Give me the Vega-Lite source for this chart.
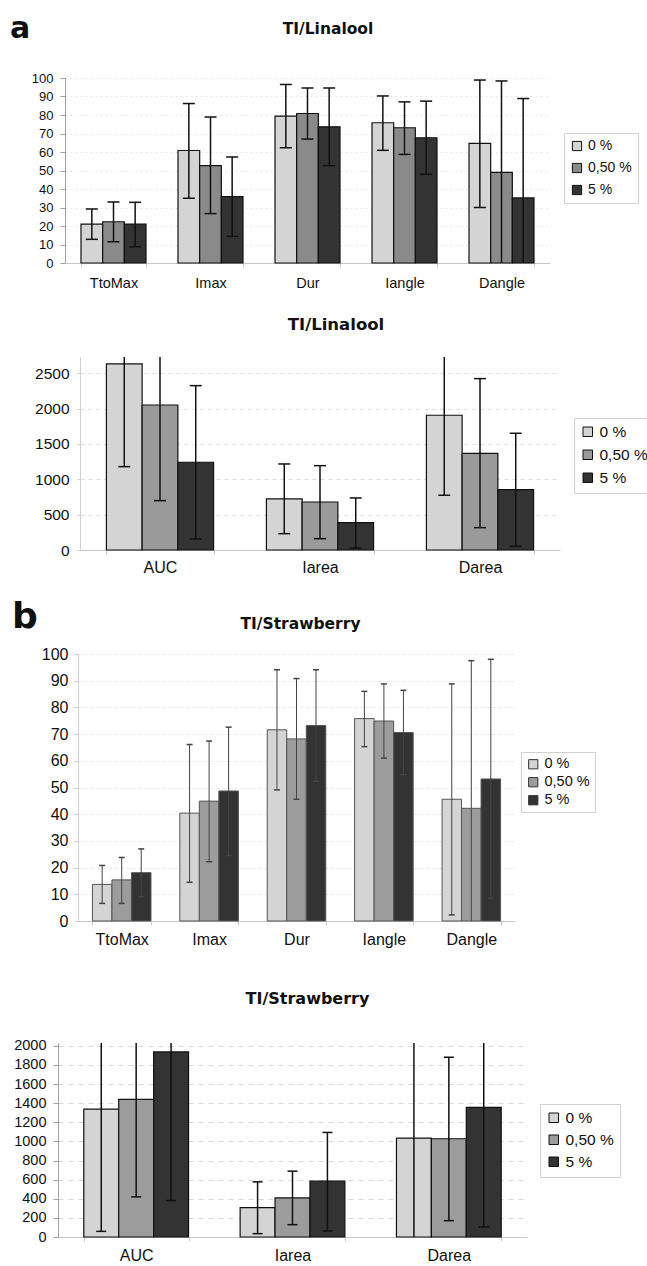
{
"$schema": "https://vega.github.io/schema/vega-lite/v6.json",
"background": "white",
"padding": {"left": 5, "top": 13, "right": 0, "bottom": 0},
"config": {
  "view": {"stroke": null},
  "font": "Liberation Sans",
  "axis": {"labelFont": "Liberation Sans", "labelColor": "#111", "domainColor": "#a0a0a0", "tickColor": "#a0a0a0", "labelOverlap": false},
  "axisX": {"grid": false},
  "axisY": {"grid": true, "format": "d"},
  "legend": {"labelFont": "Liberation Sans", "labelColor": "#111"},
  "title": {"font": "DejaVu Sans", "fontWeight": "bold", "color": "#111"}
},
"datasets": {
  "a1": [
    {"param": "TtoMax", "conc": "0 %", "v": 21, "lo": 12.8, "hi": 29.2},
    {"param": "TtoMax", "conc": "0,50 %", "v": 22.3, "lo": 11.5, "hi": 33},
    {"param": "TtoMax", "conc": "5 %", "v": 21, "lo": 8.8, "hi": 32.8},
    {"param": "Imax", "conc": "0 %", "v": 60.8, "lo": 35, "hi": 86.2},
    {"param": "Imax", "conc": "0,50 %", "v": 52.6, "lo": 26.7, "hi": 78.9},
    {"param": "Imax", "conc": "5 %", "v": 35.9, "lo": 14.4, "hi": 57.3},
    {"param": "Dur", "conc": "0 %", "v": 79.4, "lo": 62.3, "hi": 96.5},
    {"param": "Dur", "conc": "0,50 %", "v": 80.8, "lo": 67, "hi": 94.6},
    {"param": "Dur", "conc": "5 %", "v": 73.6, "lo": 52.6, "hi": 94.6},
    {"param": "Iangle", "conc": "0 %", "v": 75.8, "lo": 60.9, "hi": 90.3},
    {"param": "Iangle", "conc": "0,50 %", "v": 73.1, "lo": 58.7, "hi": 87.1},
    {"param": "Iangle", "conc": "5 %", "v": 67.7, "lo": 48, "hi": 87.5},
    {"param": "Dangle", "conc": "0 %", "v": 64.7, "lo": 30, "hi": 98.9},
    {"param": "Dangle", "conc": "0,50 %", "v": 49, "lo": -1.5, "hi": 98.4},
    {"param": "Dangle", "conc": "5 %", "v": 35.2, "lo": -18.5, "hi": 88.9}
  ],
  "a2": [
    {"param": "AUC", "conc": "0 %", "v": 2632, "lo": 1179, "hi": 4085},
    {"param": "AUC", "conc": "0,50 %", "v": 2051, "lo": 698, "hi": 3404},
    {"param": "AUC", "conc": "5 %", "v": 1241, "lo": 156, "hi": 2325},
    {"param": "Iarea", "conc": "0 %", "v": 722, "lo": 231, "hi": 1217},
    {"param": "Iarea", "conc": "0,50 %", "v": 679, "lo": 160, "hi": 1193},
    {"param": "Iarea", "conc": "5 %", "v": 387, "lo": 28, "hi": 736},
    {"param": "Darea", "conc": "0 %", "v": 1906, "lo": 774, "hi": 3038},
    {"param": "Darea", "conc": "0,50 %", "v": 1368, "lo": 316, "hi": 2424},
    {"param": "Darea", "conc": "5 %", "v": 853, "lo": 52, "hi": 1651}
  ],
  "b1": [
    {"param": "TtoMax", "conc": "0 %", "v": 13.7, "lo": 6.6, "hi": 20.8},
    {"param": "TtoMax", "conc": "0,50 %", "v": 15.4, "lo": 6.6, "hi": 23.8},
    {"param": "TtoMax", "conc": "5 %", "v": 18.1, "lo": 9.1, "hi": 27},
    {"param": "Imax", "conc": "0 %", "v": 40.4, "lo": 14.5, "hi": 66.1},
    {"param": "Imax", "conc": "0,50 %", "v": 44.9, "lo": 22.2, "hi": 67.4},
    {"param": "Imax", "conc": "5 %", "v": 48.7, "lo": 24.5, "hi": 72.6},
    {"param": "Dur", "conc": "0 %", "v": 71.6, "lo": 49.1, "hi": 94.1},
    {"param": "Dur", "conc": "0,50 %", "v": 68.2, "lo": 45.6, "hi": 90.8},
    {"param": "Dur", "conc": "5 %", "v": 73.2, "lo": 52.3, "hi": 94.1},
    {"param": "Iangle", "conc": "0 %", "v": 75.8, "lo": 65.3, "hi": 86},
    {"param": "Iangle", "conc": "0,50 %", "v": 74.9, "lo": 61, "hi": 88.8},
    {"param": "Iangle", "conc": "5 %", "v": 70.6, "lo": 54.8, "hi": 86.4},
    {"param": "Dangle", "conc": "0 %", "v": 45.6, "lo": 2.3, "hi": 88.8},
    {"param": "Dangle", "conc": "0,50 %", "v": 42.2, "lo": -13, "hi": 97.5},
    {"param": "Dangle", "conc": "5 %", "v": 53.2, "lo": 8.5, "hi": 98}
  ],
  "b2": [
    {"param": "AUC", "conc": "0 %", "v": 1339, "lo": 59, "hi": 2619},
    {"param": "AUC", "conc": "0,50 %", "v": 1441, "lo": 420, "hi": 2462},
    {"param": "AUC", "conc": "5 %", "v": 1937, "lo": 381, "hi": 3493},
    {"param": "Iarea", "conc": "0 %", "v": 308, "lo": 35, "hi": 577},
    {"param": "Iarea", "conc": "0,50 %", "v": 409, "lo": 129, "hi": 689},
    {"param": "Iarea", "conc": "5 %", "v": 584, "lo": 63, "hi": 1094},
    {"param": "Darea", "conc": "0 %", "v": 1035, "lo": -65, "hi": 2135},
    {"param": "Darea", "conc": "0,50 %", "v": 1028, "lo": 171, "hi": 1881},
    {"param": "Darea", "conc": "5 %", "v": 1357, "lo": 105, "hi": 2609}
  ]
},
"spacing": 23,
"resolve": {"scale": {"color": "independent", "x": "independent", "y": "independent", "xOffset": "independent"}, "legend": {"color": "independent"}, "axis": {"x": "independent", "y": "independent"}},
"vconcat": [
  {
    "title": {"text": "a", "anchor": "start", "fontSize": 30, "offset": -22, "dx": -2},
    "spacing": 26,
    "resolve": {"scale": {"color": "independent", "x": "independent", "y": "independent", "xOffset": "independent"}, "legend": {"color": "independent"}, "axis": {"x": "independent", "y": "independent"}},
    "vconcat": [
      {
        "width": 492, "height": 185,
        "title": {"text": "TI/Linalool", "fontSize": 15.5, "offset": 35, "dx": 24},
        "data": {"name": "a1"},
        "encoding": {
          "x": {"field": "param", "type": "nominal", "sort": ["TtoMax", "Imax", "Dur", "Iangle", "Dangle"], "title": null,
                "scale": {"range": [7, 492], "paddingInner": 0.33, "paddingOuter": 0.165},
                "axis": {"labelAngle": 0, "labelFontSize": 14.5, "labelPadding": 9, "tickBand": "extent", "tickSize": 4, "domainColor": "#c8c8c8", "tickColor": "#c8c8c8"}},
          "xOffset": {"field": "conc", "type": "nominal", "sort": ["0 %", "0,50 %", "5 %"]}
        },
        "layer": [
          {"mark": {"type": "bar", "stroke": "#111", "strokeWidth": 1.2},
           "encoding": {
             "y": {"field": "v", "type": "quantitative", "title": null, "scale": {"domain": [0, 100], "nice": false},
                   "axis": {"values": [0, 10, 20, 30, 40, 50, 60, 70, 80, 90, 100], "offset": -7, "labelFontSize": 13, "tickSize": 5, "labelPadding": 7, "minExtent": 53, "maxExtent": 53, "gridDash": [2, 3], "gridColor": "#e6e6e6"}},
             "color": {"field": "conc", "type": "nominal", "sort": ["0 %", "0,50 %", "5 %"],
                       "scale": {"domain": ["0 %", "0,50 %", "5 %"], "range": ["#d4d4d4", "#8a8a8a", "#333333"]},
                       "legend": {"title": null, "orient": "none", "legendX": 506, "legendY": 55, "direction": "vertical", "symbolType": "square", "symbolSize": 85, "symbolStrokeColor": "#111", "symbolStrokeWidth": 1, "labelFontSize": 14, "labelOffset": 4, "rowPadding": 8, "padding": 6, "strokeColor": "#d0d0d0", "fillColor": "white"}}
           }},
          {"mark": {"type": "rule", "clip": true, "color": "#111", "strokeWidth": 1.5}, "encoding": {"y": {"field": "lo", "type": "quantitative", "title": null, "axis": {"values": [0, 10, 20, 30, 40, 50, 60, 70, 80, 90, 100], "offset": -7, "labelFontSize": 13, "tickSize": 5, "labelPadding": 7, "minExtent": 53, "maxExtent": 53, "gridDash": [2, 3], "gridColor": "#e6e6e6"}}, "y2": {"field": "hi"}}},
          {"mark": {"type": "tick", "clip": true, "color": "#111", "opacity": 1, "thickness": 1.5, "size": 12}, "encoding": {"y": {"field": "lo", "type": "quantitative", "title": null, "axis": {"values": [0, 10, 20, 30, 40, 50, 60, 70, 80, 90, 100], "offset": -7, "labelFontSize": 13, "tickSize": 5, "labelPadding": 7, "minExtent": 53, "maxExtent": 53, "gridDash": [2, 3], "gridColor": "#e6e6e6"}}}},
          {"mark": {"type": "tick", "clip": true, "color": "#111", "opacity": 1, "thickness": 1.5, "size": 12}, "encoding": {"y": {"field": "hi", "type": "quantitative", "title": null, "axis": {"values": [0, 10, 20, 30, 40, 50, 60, 70, 80, 90, 100], "offset": -7, "labelFontSize": 13, "tickSize": 5, "labelPadding": 7, "minExtent": 53, "maxExtent": 53, "gridDash": [2, 3], "gridColor": "#e6e6e6"}}}}
        ]
      },
      {
        "width": 502, "height": 193,
        "title": {"text": "TI/Linalool", "fontSize": 16.5, "offset": 24, "dx": 27},
        "data": {"name": "a2"},
        "encoding": {
          "x": {"field": "param", "type": "nominal", "sort": ["AUC", "Iarea", "Darea"], "title": null,
                "scale": {"range": [22, 502], "paddingInner": 0.33, "paddingOuter": 0.165},
                "axis": {"labelAngle": 0, "labelFontSize": 16, "labelPadding": 5, "tickBand": "extent", "tickSize": 4, "domainColor": "#c8c8c8", "tickColor": "#c8c8c8"}},
          "xOffset": {"field": "conc", "type": "nominal", "sort": ["0 %", "0,50 %", "5 %"]}
        },
        "layer": [
          {"mark": {"type": "bar", "stroke": "#111", "strokeWidth": 1.2},
           "encoding": {
             "y": {"field": "v", "type": "quantitative", "title": null, "scale": {"domain": [0, 2730], "nice": false},
                   "axis": {"values": [0, 500, 1000, 1500, 2000, 2500], "offset": -22, "labelFontSize": 15.5, "tickSize": 3, "labelPadding": 8, "minExtent": 53, "maxExtent": 53, "gridDash": [4, 4], "gridColor": "#dedede", "domainColor": "#d0d0d0", "tickColor": "#d0d0d0"}},
             "color": {"field": "conc", "type": "nominal", "sort": ["0 %", "0,50 %", "5 %"],
                       "scale": {"domain": ["0 %", "0,50 %", "5 %"], "range": ["#d4d4d4", "#9a9a9a", "#333333"]},
                       "legend": {"title": null, "orient": "none", "legendX": 516, "legendY": 61, "direction": "vertical", "symbolType": "square", "symbolSize": 90, "symbolStrokeColor": "#111", "symbolStrokeWidth": 1, "labelFontSize": 15.5, "labelOffset": 4, "rowPadding": 6, "padding": 6, "strokeColor": "#d0d0d0", "fillColor": "white"}}
           }},
          {"mark": {"type": "rule", "clip": true, "color": "#111", "strokeWidth": 1.5}, "encoding": {"y": {"field": "lo", "type": "quantitative", "title": null, "axis": {"values": [0, 500, 1000, 1500, 2000, 2500], "offset": -22, "labelFontSize": 15.5, "tickSize": 3, "labelPadding": 8, "minExtent": 53, "maxExtent": 53, "gridDash": [4, 4], "gridColor": "#dedede", "domainColor": "#d0d0d0", "tickColor": "#d0d0d0"}}, "y2": {"field": "hi"}}},
          {"mark": {"type": "tick", "clip": true, "color": "#111", "opacity": 1, "thickness": 1.5, "size": 12}, "encoding": {"y": {"field": "lo", "type": "quantitative", "title": null, "axis": {"values": [0, 500, 1000, 1500, 2000, 2500], "offset": -22, "labelFontSize": 15.5, "tickSize": 3, "labelPadding": 8, "minExtent": 53, "maxExtent": 53, "gridDash": [4, 4], "gridColor": "#dedede", "domainColor": "#d0d0d0", "tickColor": "#d0d0d0"}}}},
          {"mark": {"type": "tick", "clip": true, "color": "#111", "opacity": 1, "thickness": 1.5, "size": 12}, "encoding": {"y": {"field": "hi", "type": "quantitative", "title": null, "axis": {"values": [0, 500, 1000, 1500, 2000, 2500], "offset": -22, "labelFontSize": 15.5, "tickSize": 3, "labelPadding": 8, "minExtent": 53, "maxExtent": 53, "gridDash": [4, 4], "gridColor": "#dedede", "domainColor": "#d0d0d0", "tickColor": "#d0d0d0"}}}}
        ]
      }
    ]
  },
  {
    "title": {"text": "b", "anchor": "start", "fontSize": 36, "offset": -19, "dx": 7},
    "spacing": 43,
    "resolve": {"scale": {"color": "independent", "x": "independent", "y": "independent", "xOffset": "independent"}, "legend": {"color": "independent"}, "axis": {"x": "independent", "y": "independent"}},
    "vconcat": [
      {
        "width": 457, "height": 267,
        "title": {"text": "TI/Strawberry", "fontSize": 15.5, "offset": 14, "dx": 14},
        "data": {"name": "b1"},
        "encoding": {
          "x": {"field": "param", "type": "nominal", "sort": ["TtoMax", "Imax", "Dur", "Iangle", "Dangle"], "title": null,
                "scale": {"range": [20, 457], "paddingInner": 0.33, "paddingOuter": 0.165},
                "axis": {"labelAngle": 0, "labelFontSize": 16, "labelPadding": 6, "tickBand": "extent", "tickSize": 4, "domainColor": "#c8c8c8", "tickColor": "#c8c8c8"}},
          "xOffset": {"field": "conc", "type": "nominal", "sort": ["0 %", "0,50 %", "5 %"]}
        },
        "layer": [
          {"mark": {"type": "bar", "stroke": "#555", "strokeWidth": 1},
           "encoding": {
             "y": {"field": "v", "type": "quantitative", "title": null, "scale": {"domain": [0, 100], "nice": false},
                   "axis": {"values": [0, 10, 20, 30, 40, 50, 60, 70, 80, 90, 100], "offset": -20, "labelFontSize": 16, "tickSize": 4, "labelPadding": 6, "minExtent": 53, "maxExtent": 53, "gridDash": [3, 3], "gridColor": "#e6e6e6", "domainColor": "#d0d0d0", "tickColor": "#d0d0d0"}},
             "color": {"field": "conc", "type": "nominal", "sort": ["0 %", "0,50 %", "5 %"],
                       "scale": {"domain": ["0 %", "0,50 %", "5 %"], "range": ["#d4d4d4", "#9c9c9c", "#333333"]},
                       "legend": {"title": null, "orient": "none", "legendX": 463, "legendY": 98, "direction": "vertical", "symbolType": "square", "symbolSize": 85, "symbolStrokeColor": "#333", "symbolStrokeWidth": 1, "labelFontSize": 14.5, "labelOffset": 4, "rowPadding": 3, "padding": 5, "strokeColor": "#d0d0d0", "fillColor": "white"}}
           }},
          {"mark": {"type": "rule", "clip": true, "color": "#444", "strokeWidth": 1}, "encoding": {"y": {"field": "lo", "type": "quantitative", "title": null, "axis": {"values": [0, 10, 20, 30, 40, 50, 60, 70, 80, 90, 100], "offset": -20, "labelFontSize": 16, "tickSize": 4, "labelPadding": 6, "minExtent": 53, "maxExtent": 53, "gridDash": [3, 3], "gridColor": "#e6e6e6", "domainColor": "#d0d0d0", "tickColor": "#d0d0d0"}}, "y2": {"field": "hi"}}},
          {"mark": {"type": "tick", "clip": true, "color": "#444", "opacity": 1, "thickness": 1.5, "size": 6}, "encoding": {"y": {"field": "lo", "type": "quantitative", "title": null, "axis": {"values": [0, 10, 20, 30, 40, 50, 60, 70, 80, 90, 100], "offset": -20, "labelFontSize": 16, "tickSize": 4, "labelPadding": 6, "minExtent": 53, "maxExtent": 53, "gridDash": [3, 3], "gridColor": "#e6e6e6", "domainColor": "#d0d0d0", "tickColor": "#d0d0d0"}}}},
          {"mark": {"type": "tick", "clip": true, "color": "#444", "opacity": 1, "thickness": 1.5, "size": 6}, "encoding": {"y": {"field": "hi", "type": "quantitative", "title": null, "axis": {"values": [0, 10, 20, 30, 40, 50, 60, 70, 80, 90, 100], "offset": -20, "labelFontSize": 16, "tickSize": 4, "labelPadding": 6, "minExtent": 53, "maxExtent": 53, "gridDash": [3, 3], "gridColor": "#e6e6e6", "domainColor": "#d0d0d0", "tickColor": "#d0d0d0"}}}}
        ]
      },
      {
        "width": 469, "height": 194,
        "title": {"text": "TI/Strawberry", "fontSize": 16, "offset": 31, "dx": 15},
        "data": {"name": "b2"},
        "encoding": {
          "x": {"field": "param", "type": "nominal", "sort": ["AUC", "Iarea", "Darea"], "title": null,
                "scale": {"paddingInner": 0.33, "paddingOuter": 0.165},
                "axis": {"labelAngle": 0, "labelFontSize": 16, "labelPadding": 6, "tickBand": "extent", "tickSize": 4, "domainColor": "#c8c8c8", "tickColor": "#c8c8c8"}},
          "xOffset": {"field": "conc", "type": "nominal", "sort": ["0 %", "0,50 %", "5 %"]}
        },
        "layer": [
          {"mark": {"type": "bar", "stroke": "#111", "strokeWidth": 1.2},
           "encoding": {
             "y": {"field": "v", "type": "quantitative", "title": null, "scale": {"domain": [0, 2030], "nice": false},
                   "axis": {"values": [0, 200, 400, 600, 800, 1000, 1200, 1400, 1600, 1800, 2000], "labelFontSize": 14.5, "tickSize": 5, "labelPadding": 7, "minExtent": 53, "maxExtent": 53, "gridDash": [5, 5], "gridColor": "#d8d8d8", "domainColor": "#a0a0a0", "tickColor": "#a0a0a0"}},
             "color": {"field": "conc", "type": "nominal", "sort": ["0 %", "0,50 %", "5 %"],
                       "scale": {"domain": ["0 %", "0,50 %", "5 %"], "range": ["#d4d4d4", "#9c9c9c", "#333333"]},
                       "legend": {"title": null, "orient": "none", "legendX": 482, "legendY": 61, "direction": "vertical", "symbolType": "square", "symbolSize": 90, "symbolStrokeColor": "#111", "symbolStrokeWidth": 1, "labelFontSize": 15.5, "labelOffset": 4, "rowPadding": 5, "padding": 6, "strokeColor": "#d0d0d0", "fillColor": "white"}}
           }},
          {"mark": {"type": "rule", "clip": true, "color": "#111", "strokeWidth": 1.5}, "encoding": {"y": {"field": "lo", "type": "quantitative", "title": null, "axis": {"values": [0, 200, 400, 600, 800, 1000, 1200, 1400, 1600, 1800, 2000], "labelFontSize": 14.5, "tickSize": 5, "labelPadding": 7, "minExtent": 53, "maxExtent": 53, "gridDash": [5, 5], "gridColor": "#d8d8d8", "domainColor": "#a0a0a0", "tickColor": "#a0a0a0"}}, "y2": {"field": "hi"}}},
          {"mark": {"type": "tick", "clip": true, "color": "#111", "opacity": 1, "thickness": 1.5, "size": 10}, "encoding": {"y": {"field": "lo", "type": "quantitative", "title": null, "axis": {"values": [0, 200, 400, 600, 800, 1000, 1200, 1400, 1600, 1800, 2000], "labelFontSize": 14.5, "tickSize": 5, "labelPadding": 7, "minExtent": 53, "maxExtent": 53, "gridDash": [5, 5], "gridColor": "#d8d8d8", "domainColor": "#a0a0a0", "tickColor": "#a0a0a0"}}}},
          {"mark": {"type": "tick", "clip": true, "color": "#111", "opacity": 1, "thickness": 1.5, "size": 10}, "encoding": {"y": {"field": "hi", "type": "quantitative", "title": null, "axis": {"values": [0, 200, 400, 600, 800, 1000, 1200, 1400, 1600, 1800, 2000], "labelFontSize": 14.5, "tickSize": 5, "labelPadding": 7, "minExtent": 53, "maxExtent": 53, "gridDash": [5, 5], "gridColor": "#d8d8d8", "domainColor": "#a0a0a0", "tickColor": "#a0a0a0"}}}}
        ]
      }
    ]
  }
]
}
